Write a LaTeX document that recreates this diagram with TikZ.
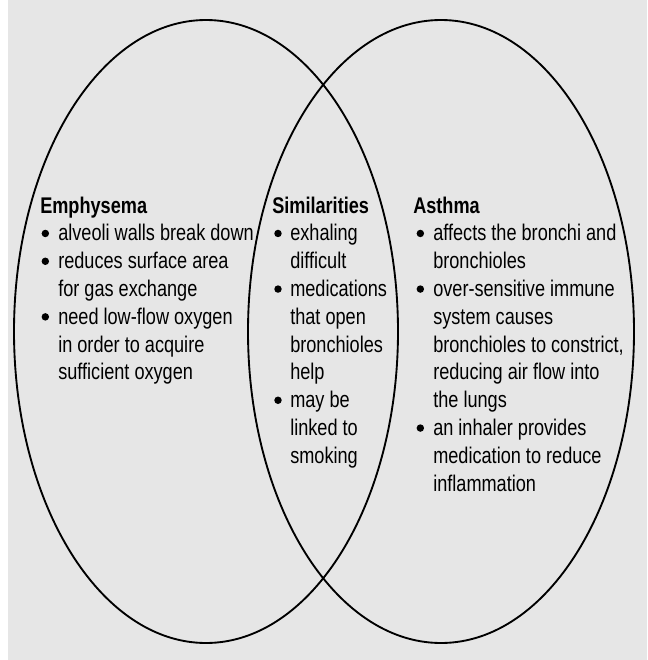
\documentclass[tikz,border=0pt]{standalone}
\usepackage{fontspec}
\setmainfont{Liberation Sans}[FakeStretch=0.8]
\definecolor{bggray}{HTML}{E6E6E6}
\newcommand\bul[2]{\makebox[#2][l]{\hspace{#1}\tikz[baseline=0pt]\fill[black] (2.8pt,5.5pt) circle (2.8pt);}}
\newcommand\ind[1]{\hspace*{#1}}
\newcommand\colbox[1]{\vtop{\baselineskip=20.85pt\lineskiplimit=-20pt\lineskip=0pt #1}}
\begin{document}
\begin{tikzpicture}[x=0.75pt,y=-0.75pt,
  ring/.style={draw=black,line width=1.4pt},
  coltext/.style={anchor=base west,inner sep=0pt,font=\fontsize{17pt}{20.85pt}\selectfont}]
\useasboundingbox (0,0) rectangle (647,660);
\fill[bggray] (8,0) rectangle (647,660);
\draw[ring] (206,331.5) ellipse [x radius=192, y radius=311.5];
\draw[ring] (441,331.5) ellipse [x radius=193, y radius=311.5];
\node[coltext] (emph) at (40,213) {\colbox{%
  \hbox{\textbf{Emphysema}}%
  \hbox{\bul{1pt}{13.5pt}alveoli walls break down}%
  \hbox{\bul{1pt}{13.5pt}reduces surface area}%
  \hbox{\ind{13.5pt}for gas exchange}%
  \hbox{\bul{1pt}{13.5pt}need low-flow oxygen}%
  \hbox{\ind{13.5pt}in order to acquire}%
  \hbox{\ind{13.5pt}sufficient oxygen}}};
\node[coltext] (simi) at (272,213) {\colbox{%
  \hbox{\textbf{Similarities}}%
  \hbox{\bul{1.5pt}{13.5pt}exhaling}%
  \hbox{\ind{13.5pt}difficult}%
  \hbox{\bul{1.5pt}{13.5pt}medications}%
  \hbox{\ind{13.5pt}that open}%
  \hbox{\ind{13.5pt}bronchioles}%
  \hbox{\ind{13.5pt}help}%
  \hbox{\bul{1.5pt}{13.5pt}may be}%
  \hbox{\ind{13.5pt}linked to}%
  \hbox{\ind{13.5pt}smoking}}};
\node[coltext] (asth) at (413,213) {\colbox{%
  \hbox{\textbf{Asthma}}%
  \hbox{\bul{2.5pt}{15pt}affects the bronchi and}%
  \hbox{\ind{15pt}bronchioles}%
  \hbox{\bul{2.5pt}{15pt}over-sensitive immune}%
  \hbox{\ind{15pt}system causes}%
  \hbox{\ind{15pt}bronchioles to constrict,}%
  \hbox{\ind{15pt}reducing air flow into}%
  \hbox{\ind{15pt}the lungs}%
  \hbox{\bul{2.5pt}{15pt}an inhaler provides}%
  \hbox{\ind{15pt}medication to reduce}%
  \hbox{\ind{15pt}inflammation}}};
\end{tikzpicture}
\end{document}
